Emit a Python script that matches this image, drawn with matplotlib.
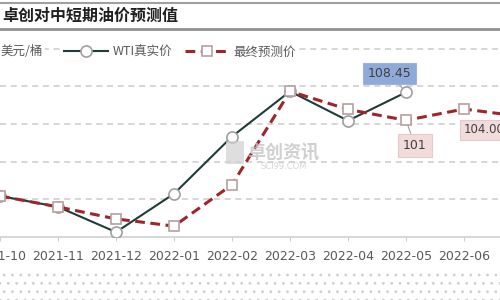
import matplotlib
matplotlib.use("Agg")
import matplotlib.pyplot as plt
from matplotlib.lines import Line2D
from matplotlib.patches import Rectangle

plt.rcParams['font.family'] = ['Noto Sans CJK SC', 'DejaVu Sans']
plt.rcParams['hatch.linewidth'] = 0.8

categories = ["2021-10", "2021-11", "2021-12", "2022-01", "2022-02",
              "2022-03", "2022-04", "2022-05", "2022-06", "2022-07"]
wti_actual = [80.9, 78.0, 71.3, 81.5, 96.7, 108.7, 100.9, 108.45]
forecast = [80.9, 78.0, 74.8, 72.9, 83.9, 108.7, 103.9, 101.0, 104.0, 102.0]
title = "卓创对中短期油价预测值"
unit = "美元/桶"
series_names = ["WTI真实价", "最终预测价"]

fig = plt.figure(figsize=(5, 3), dpi=100)
ax = fig.add_axes([0, 0.21, 1, 0.69])

x_wti = list(range(len(wti_actual)))
x_fc = list(range(len(forecast)))

l1, = ax.plot(x_wti, wti_actual, color="#1f3d38", lw=1.5, marker="o", ms=8,
              mfc="white", mec="#a0a0a0", mew=1.2, zorder=4)
l2, = ax.plot(x_fc, forecast, color="#a0252b", lw=2.2, ls=(0, (3.2, 1.8)),
              marker="s", ms=7.5, mfc="white", mec="#b8a0a0", mew=1.2, zorder=5)

ax.set_xticks(x_fc[:-1])
ax.set_xticklabels(categories[:-1], fontsize=9, color="#595959", family="DejaVu Sans")
ax.tick_params(axis='x', length=3, color="#d0d0d0", pad=6)
ax.set_yticks([80, 90, 100, 110, 120])
ax.set_xlim(-0.001, 500/58)
ax.set_ylim(70, 125)
ax.yaxis.grid(True, color="#cccccc", ls=(0, (4, 3)), lw=1.1)
ax.set_axisbelow(True)
ax.tick_params(axis='y', left=False, labelleft=False)
for s in ["top", "left", "right"]:
    ax.spines[s].set_visible(False)
ax.spines["bottom"].set_color("#d0d0d0")
ax.spines["bottom"].set_linewidth(1.2)

# annotations
ax.annotate("108.45", xy=(7, wti_actual[7]), xytext=(-12, 13.5), textcoords="offset points",
            ha="center", va="center", fontsize=9, color="#404040", family="DejaVu Sans",
            bbox=dict(boxstyle="square,pad=0.35", fc="#8eaad8", ec="#9fb4d8", lw=0.8),
            arrowprops=dict(arrowstyle="-", color="#a0a0a0", lw=0.8, shrinkA=0, shrinkB=4),
            zorder=6)
ax.annotate("101", xy=(7, forecast[7]), xytext=(6.5, -18), textcoords="offset points",
            ha="center", va="center", fontsize=9, color="#404040", family="DejaVu Sans",
            bbox=dict(boxstyle="square,pad=0.4", fc="#f2dcdb", ec="#e6caca", lw=0.8),
            arrowprops=dict(arrowstyle="-", color="#a0a0a0", lw=0.8, shrinkA=0, shrinkB=4),
            zorder=6)
ax.annotate("104.00", xy=(8, forecast[8]), xytext=(0, -15), textcoords="offset points",
            ha="left", va="center", fontsize=8.5, color="#404040", family="DejaVu Sans",
            bbox=dict(boxstyle="square,pad=0.3", fc="#f2dcdb", ec="#e6caca", lw=0.8),
            zorder=6)

# watermark
fig.text(0.567, 0.493, "卓创资讯", fontsize=13, color="#c4c4c4", ha="center", va="center",
         weight="bold", alpha=0.8)
fig.text(0.567, 0.445, "SCI99.COM", fontsize=6, color="#cccccc", ha="center", va="center",
         family="DejaVu Sans", alpha=0.8)
fig.add_artist(Rectangle((0.452, 0.455), 0.035, 0.075, transform=fig.transFigure,
                         fc="#d0d0d0", ec="none", alpha=0.7))

# legend row
fig.text(0.0, 0.827, unit, fontsize=9, color="#595959", ha="left", va="center",
         bbox=dict(fc="white", ec="none", pad=1.5))
leg = fig.legend([l1, l2], series_names, loc="center left", bbox_to_anchor=(0.11, 0.827),
                 ncol=2, frameon=True, fontsize=9, handlelength=3.5, columnspacing=1.0,
                 handletextpad=0.4, borderpad=0.2, labelcolor="#595959")
leg.get_frame().set_facecolor("white")
leg.get_frame().set_edgecolor("none")
leg.get_frame().set_alpha(1)

# title and header rules
fig.text(0.005, 0.948, title, fontsize=11.5, weight="bold", color="#202020",
         ha="left", va="center")
fig.add_artist(Line2D([0, 1], [0.99, 0.99], transform=fig.transFigure, color="#a0a0a0", lw=1.5))
fig.add_artist(Line2D([0, 1], [0.905, 0.905], transform=fig.transFigure, color="#909090", lw=2))

# dotted texture at bottom
fig.add_artist(Rectangle((0, 0), 1, 0.1, transform=fig.transFigure, fc="white",
                         ec="#d0d0d0", hatch="..", lw=0))

fig.savefig("out.png", dpi=100)
